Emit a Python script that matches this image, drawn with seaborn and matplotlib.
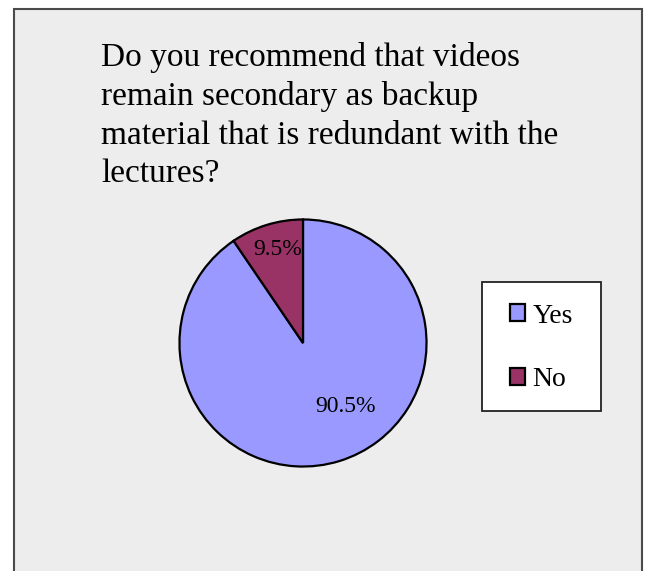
import matplotlib
matplotlib.use("Agg")
import matplotlib.pyplot as plt
from matplotlib.patches import Rectangle
import seaborn as sns
import numpy as np

categories = ["Yes", "No"]
values = [90.5, 9.5]
pct_labels = ["90.5%", "9.5%"]
title = ("Do you recommend that videos\nremain secondary as backup\n"
         "material that is redundant with the\nlectures?")
colors = ["#9999FF", "#993366"]

sns.set_style("white")
plt.rcParams["font.family"] = ["Liberation Serif", "DejaVu Serif"]

W, H = 646, 571
fig = plt.figure(figsize=(W / 100, H / 100), dpi=100)
fig.patch.set_facecolor("white")

def fx(px):
    return px / W

def fy(py):
    return 1 - py / H

# chart area panel
fig.patches.append(Rectangle((fx(14), -0.02), fx(642) - fx(14), fy(9) + 0.02,
                             transform=fig.transFigure, facecolor="#EDEDED",
                             edgecolor="#4a4a4a", linewidth=1.5, zorder=-5))

# title (last-line baseline)
fig.text(fx(101), fy(182), title, ha="left", va="baseline", fontsize=24,
         linespacing=1.335, color="black")

# pie
cx, cy, r = 303, 343, 126
ax = fig.add_axes([fx(cx - r), fy(cy + r), 2 * r / W, 2 * r / H])
ax.set_zorder(3)
ax.set_facecolor("none")
palette = sns.color_palette(colors)
wedges, _ = ax.pie(values, colors=palette, startangle=90, counterclock=False,
                   wedgeprops=dict(edgecolor="black", linewidth=1.6),
                   radius=1.0)
ax.set_xlim(-1.02, 1.02)
ax.set_ylim(-1.02, 1.02)
ax.set_aspect("equal")
ax.axis("off")

# percentage labels (Excel-like positions)
label_pos = [(0.345, -0.512), (-0.206, 0.754)]
for (lx, ly), t in zip(label_pos, pct_labels):
    ax.text(lx, ly, t, ha="center", va="center", fontsize=17, color="black")

# legend box
fig.patches.append(Rectangle((fx(482), fy(411)), fx(601) - fx(482), fy(282) - fy(411),
                             transform=fig.transFigure, facecolor="white",
                             edgecolor="#222222", linewidth=1.3, zorder=-4))
handles = [Rectangle((0, 0), 1, 1, facecolor=c, edgecolor="black", linewidth=1.6)
           for c in palette]
leg = fig.legend(handles, categories, loc="center",
                 bbox_to_anchor=(fx(541.5), fy(348)), frameon=False,
                 fontsize=20, handlelength=0.55, handleheight=0.55,
                 handletextpad=0.25, labelspacing=1.4, labelcolor="black")
leg.set_zorder(4)

fig.savefig("out.png", dpi=100, facecolor="white")
